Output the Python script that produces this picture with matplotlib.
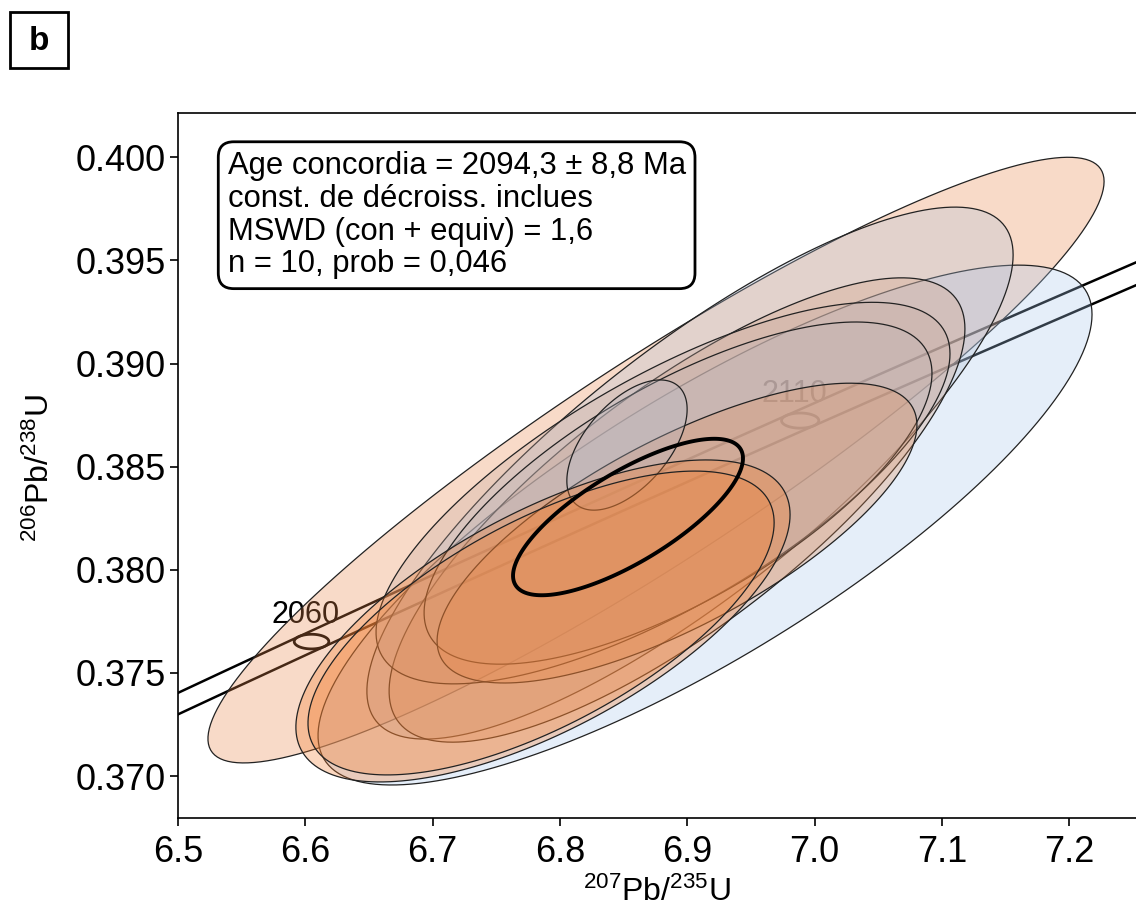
"""Wetherill concordia diagram with error ellipses (panel b)."""
import numpy as np
import matplotlib
matplotlib.use('Agg')
import matplotlib.pyplot as plt
from matplotlib.patches import Polygon, Rectangle
from matplotlib.colors import LinearSegmentedColormap

plt.rcParams['font.family'] = ['Liberation Sans', 'DejaVu Sans']
plt.rcParams['mathtext.fontset'] = 'custom'
plt.rcParams['mathtext.rm'] = 'Liberation Sans'
plt.rcParams['mathtext.it'] = 'Liberation Sans:italic'

# decay constants (1/yr) and relative uncertainty used for the concordia band
LAM235 = 9.8485e-10
LAM238 = 1.55125e-10
REL235 = 0.00036
REL238 = 0.00033
K95 = 2.4477  # 95 % for 2 degrees of freedom

# analyses: 207Pb/235U, 206Pb/238U, 1 sigma errors, error correlation
pb207_u235 = [6.8755, 6.9140, 6.9022, 6.8920, 6.8810, 6.8928, 6.8920, 6.8527, 6.7867, 6.7852]
s_207_235 = [0.1438, 0.1242, 0.1037, 0.0924, 0.0921, 0.0815, 0.0770, 0.0193, 0.0793, 0.0748]
pb206_u238 = [0.38532, 0.38217, 0.38469, 0.38290, 0.38372, 0.38372, 0.38178, 0.38605, 0.37752, 0.37742]
s_206_238 = [0.00600, 0.00515, 0.00527, 0.00460, 0.00378, 0.00339, 0.00297, 0.00129, 0.00319, 0.00301]
rho = [0.92, 0.81, 0.82, 0.78, 0.73, 0.70, 0.72, 0.55, 0.66, 0.66]
colour_level = [0.85, 0.00, 0.12, 0.55, 0.40, 0.30, 0.75, 0.20, 1.00, 0.95]

# concordia age ellipse
conc_x, conc_sx = 6.8535, 0.0369
conc_y, conc_sy = 0.38256, 0.00155
conc_rho = 0.75
conc_text = ["Age concordia = 2094,3 \u00b1 8,8 Ma",
             "const. de d\u00e9croiss. inclues",
             "MSWD (con + equiv) = 1,6",
             "n = 10, prob = 0,046"]

age_ticks = [2060, 2110]
x_ticks = [6.5, 6.6, 6.7, 6.8, 6.9, 7.0, 7.1, 7.2]
y_ticks = [0.370, 0.375, 0.380, 0.385, 0.390, 0.395, 0.400]


def ellipse_xy(x, sx, y, sy, r, n=200):
    cov = np.array([[sx**2, r*sx*sy], [r*sx*sy, sy**2]])
    L = np.linalg.cholesky(cov)
    a = np.linspace(0, 2*np.pi, n)
    pts = K95 * L @ np.vstack([np.cos(a), np.sin(a)])
    return np.column_stack([x + pts[0], y + pts[1]])


def concordia(t):
    return np.exp(LAM235*t) - 1, np.exp(LAM238*t) - 1


def conc_sigma(t):
    sx = t*np.exp(LAM235*t)*LAM235*REL235
    sy = t*np.exp(LAM238*t)*LAM238*REL238
    return sx, sy


cmap = LinearSegmentedColormap.from_list('bo', ['#a9c9ee', '#f47c2c'])

fig = plt.figure(figsize=(11.36, 9.13), dpi=100)
ax = fig.add_axes([178/1136, 95/913, (1150-178)/1136, 705/913])

# concordia band (envelope of the decay-constant ellipses)
t = np.linspace(1.95e9, 2.25e9, 400)
X, Y = concordia(t)
dX = LAM235*np.exp(LAM235*t)
dY = LAM238*np.exp(LAM238*t)
sX, sY = conc_sigma(t)
nx, ny = dY, -dX
norm = np.sqrt(nx**2*sX**2 + ny**2*sY**2)
offx = K95*sX**2*nx/norm
offy = K95*sY**2*ny/norm
ax.plot(X + offx, Y + offy, color='black', lw=1.8, zorder=1)
ax.plot(X - offx, Y - offy, color='black', lw=1.8, zorder=1)

for age in age_ticks:
    tx, ty = concordia(age*1e6)
    ex, ey = conc_sigma(age*1e6)
    ax.add_patch(Polygon(ellipse_xy(tx, ex, ty, ey, 0.0), closed=True,
                         fill=False, edgecolor='black', lw=2, zorder=1))
    ax.annotate(str(age), (tx, ty), xytext=(-6, 12), textcoords='offset pixels',
                ha='center', va='bottom', fontsize=22, zorder=1)

# data ellipses
for i in range(len(pb207_u235)):
    pts = ellipse_xy(pb207_u235[i], s_207_235[i], pb206_u238[i], s_206_238[i], rho[i])
    fc = cmap(colour_level[i])
    ax.add_patch(Polygon(pts, closed=True, facecolor=(fc[0], fc[1], fc[2], 0.3),
                         edgecolor='#222222', lw=0.9, zorder=2))

# concordia age ellipse
ax.add_patch(Polygon(ellipse_xy(conc_x, conc_sx, conc_y, conc_sy, conc_rho), closed=True,
                     fill=False, edgecolor='black', lw=2.8, zorder=3))

ax.text(0.051, 0.946, "\n".join(conc_text), transform=ax.transAxes, ha='left', va='top',
        fontsize=22.3, linespacing=1.12, zorder=5,
        bbox=dict(boxstyle='round,pad=0.3,rounding_size=0.5', fc='white', ec='black', lw=2))

ax.set_xlim(6.5, 6.5 + (1150 - 178)/1273)
ax.set_ylim(0.370 - (818 - 776)/20620, 0.370 + (776 - 113)/20620)
ax.set_xticks(x_ticks)
ax.set_xticklabels([f"{v:.1f}" for v in x_ticks])
ax.set_yticks(y_ticks)
ax.set_yticklabels([f"{v:.3f}" for v in y_ticks])
ax.tick_params(direction='out', length=6, width=1.2, labelsize=26)
ax.tick_params(axis='y', pad=3)
ax.tick_params(axis='x', pad=6)
for s in ax.spines.values():
    s.set_linewidth(1.2)

fig.text(657/1136, 1 - 892/913, r'$^{207}$Pb/$^{235}$U', ha='center', va='center', fontsize=23)
fig.text(40/1136, 1 - 468/913, r'$^{206}$Pb/$^{238}$U', ha='center', va='center',
         rotation=90, fontsize=23)

# panel letter in a square frame
fig.patches.append(Rectangle((10/1136, 1 - 68/913), 58/1136, 56/913, transform=fig.transFigure,
                             fill=False, edgecolor='black', lw=2))
fig.text(39/1136, 1 - 41/913, 'b', ha='center', va='center', fontsize=24, fontweight='bold')

fig.savefig('out.png', dpi=100)
